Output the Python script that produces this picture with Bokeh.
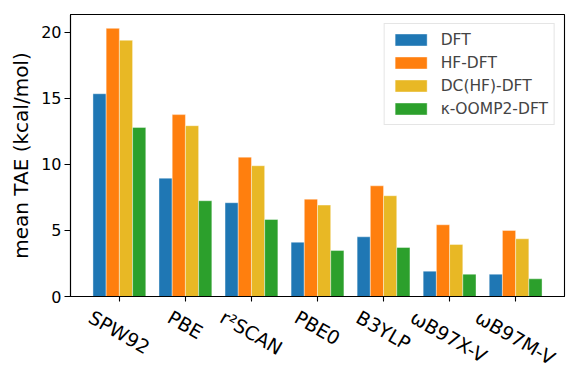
import numpy as np
from bokeh.plotting import figure
from bokeh.models import FixedTicker, Range1d, Legend, LegendItem, AllLabels
from bokeh.embed import file_html
from bokeh.resources import INLINE
import math

methods = ["SPW92", "PBE", "r²SCAN", "PBE0", "B3YLP", "ωB97X-V", "ωB97M-V"]
series_names = ["DFT", "HF-DFT", "DC(HF)-DFT", "κ-OOMP2-DFT"]
dft = [15.35, 8.96, 7.10, 4.11, 4.52, 1.92, 1.69]
hf_dft = [20.3, 13.77, 10.55, 7.37, 8.38, 5.43, 5.00]
dc_hf_dft = [19.4, 12.93, 9.90, 6.92, 7.63, 3.94, 4.37]
oomp2_dft = [12.8, 7.25, 5.83, 3.48, 3.71, 1.69, 1.34]
y_ticks = [0, 5, 10, 15, 20]

colors = ["#1f77b4", "#ff7f0e", "#e8b825", "#2ca02c"]
series = [dft, hf_dft, dc_hf_dft, oomp2_dft]

W, H = 581, 388
BL, BR, BT, BB = 70, 17, 14, 92
X0, X1 = -0.74, 6.74

p = figure(width=W, height=H, output_backend="svg", toolbar_location=None,
           x_range=Range1d(X0, X1), y_range=Range1d(0, 21.35),
           min_border_left=BL, min_border_right=BR, min_border_top=BT, min_border_bottom=BB)
p.xgrid.visible = False
p.ygrid.visible = False
p.outline_line_color = "black"
p.outline_line_width = 1.1

idx = np.arange(len(methods))
bw = 0.2
items = []
for k, (vals, c, name) in enumerate(zip(series, colors, series_names)):
    r = p.vbar(x=idx + (k - 1.5) * bw, top=vals, width=bw, bottom=0,
               fill_color=c, line_color="white", line_alpha=0.5, line_width=0.8)
    items.append(LegendItem(label=name, renderers=[r]))

# matplotlib-like centred rotated labels: Bokeh anchors rotated labels at their
# left-middle point, so shift each label's anchor left by half its rotated length.
fs = 19
char_w = {"S": .635, "P": .603, "W": .989, "9": .636, "2": .636, "B": .686, "E": .632,
          "r": .411, "²": .401, "C": .698, "A": .684, "N": .748, "0": .636, "3": .636,
          "Y": .611, "L": .557, "ω": .812, "7": .636, "X": .685, "-": .361, "V": .684,
          "M": .863}
px_per_unit = (W - BL - BR) / (X1 - X0)
label_pos = []
for i, m in enumerate(methods):
    L = sum(char_w.get(ch, 0.63) for ch in m) * fs
    label_pos.append(round(float(idx[i]) - 0.5 * L * math.cos(math.pi / 6) / px_per_unit, 4))

p.xaxis.ticker = FixedTicker(ticks=label_pos, minor_ticks=[float(v) for v in idx])
p.xaxis.major_label_overrides = {pos: m for pos, m in zip(label_pos, methods)}
p.xaxis.major_label_policy = AllLabels()
p.xaxis.major_label_orientation = -math.pi / 6
p.xaxis.major_tick_line_color = None
p.xaxis.minor_tick_line_color = "black"
p.xaxis.minor_tick_line_width = 1.1
p.xaxis.minor_tick_out = 5
p.xaxis.minor_tick_in = 0
p.xaxis.major_tick_out = 5
p.xaxis.major_tick_in = 0
p.xaxis.major_label_standoff = 14
p.xaxis.major_label_text_font_size = f"{fs}px"

p.yaxis.ticker = FixedTicker(ticks=y_ticks)
p.yaxis.major_tick_line_color = "black"
p.yaxis.major_tick_line_width = 1.1
p.yaxis.major_tick_out = 6
p.yaxis.major_tick_in = 0
p.yaxis.minor_tick_line_color = None

for ax in (p.xaxis, p.yaxis):
    ax.axis_line_color = "black"
    ax.axis_line_width = 1.1
    ax.major_label_text_font = "DejaVu Sans"
    ax.major_label_text_color = "black"

p.yaxis.major_label_text_font_size = "16px"
p.yaxis.major_label_standoff = 3
p.yaxis.axis_label = "mean TAE (kcal/mol)"
p.yaxis.axis_label_text_font = "DejaVu Sans"
p.yaxis.axis_label_text_font_size = "20px"
p.yaxis.axis_label_text_font_style = "normal"
p.yaxis.axis_label_text_color = "black"
p.yaxis.axis_label_standoff = 5

legend = Legend(items=items, location="top_right",
                label_text_font="DejaVu Sans", label_text_font_size="15.5px",
                glyph_width=40, glyph_height=15, label_standoff=10,
                label_height=19, spacing=4, padding=6, margin=9,
                border_line_color="#cccccc", border_line_width=1,
                background_fill_alpha=0.8)
p.add_layout(legend)

open("out.html", "w").write(file_html(p, INLINE))
